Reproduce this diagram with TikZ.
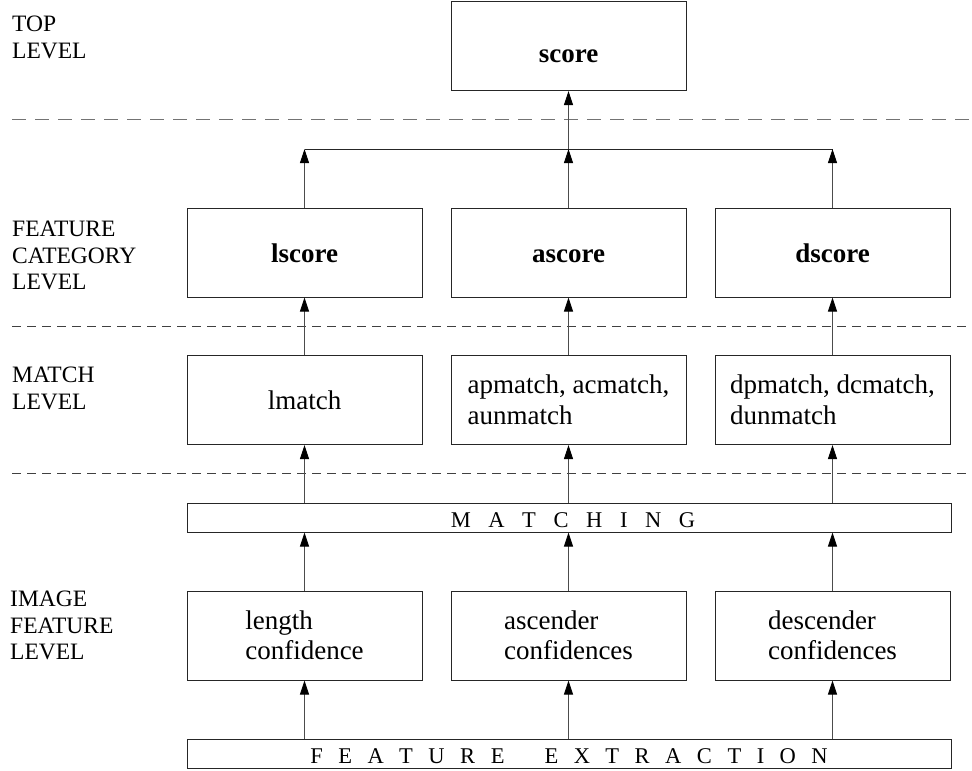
\documentclass[tikz,border=0pt]{standalone}
\usepackage{fontspec}
\setmainfont{Liberation Serif}
\usetikzlibrary{arrows.meta}
\newcommand\lblfont{\fontsize{23.5}{26.5}\selectfont}
\newcommand\boxfont{\fontsize{27}{30.5}\selectfont}
\newcommand\boldfont{\fontsize{27}{30}\selectfont\bfseries}
\newcommand\barfont{\fontsize{22.5}{25}\selectfont}
\newcommand\gm{\hspace{17.6pt}}
\newcommand\gf{\hspace{15.5pt}}
\begin{document}
\begin{tikzpicture}[x=1pt,y=-1pt,
  box/.style={draw=black!85, line width=1pt, minimum width=235pt, minimum height=89pt, inner sep=0pt, align=left, font=\boxfont},
  bbox/.style={box, font=\boldfont, text height=19pt, text depth=0pt},
  bar/.style={draw=black!85, line width=1pt, minimum width=764pt, minimum height=29pt, inner sep=0pt, font=\barfont, text height=20pt, text depth=0pt},
  lbl/.style={anchor=north west, inner sep=0pt, align=left, font=\lblfont},
  arr/.style={draw=black!70, line width=0.9pt, -{Triangle[length=14pt,width=9pt,color=black]}},
  conn/.style={draw=black!85, line width=1pt},
  sepa/.style={draw=black!55, line width=1pt, dash pattern=on 14pt off 9pt},
  sepb/.style={draw=black!75, line width=0.9pt, dash pattern=on 9pt off 6pt}]
\useasboundingbox (0,0) rectangle (972,771);

% level labels
\node[lbl] (ltop) at (12,16) {TOP\\LEVEL};
\node[lbl] (lcat) at (12,221) {FEATURE\\CATEGORY\\LEVEL};
\node[lbl] (lmat) at (12,367) {MATCH\\LEVEL};
\node[lbl] (limg) at (10,591) {IMAGE\\FEATURE\\LEVEL};

% separators
\draw[sepa] (12,119) -- (972,119);
\draw[sepb] (12,326) -- (972,326);
\draw[sepb] (12,473) -- (972,473);

% boxes
\node[bbox, text height=32pt] (score) at (568.5,46) {score};
\node[bbox] (lscore) at (304.5,252.5) {lscore};
\node[bbox] (ascore) at (568.5,252.5) {ascore};
\node[bbox] (dscore) at (832.5,252.5) {dscore};

\node[box] (lmatch) at (304.5,400) {lmatch};
\node[box] (amatch) at (568.5,400) {apmatch, acmatch,\\aunmatch};
\node[box] (dmatch) at (832.5,400) {dpmatch, dcmatch,\\dunmatch};

\node[bar] (matching) at (569,517.5) {\hspace{8pt}M\gm A\gm T\gm C\gm H\gm I\gm N\gm G};

\node[box] (lconf) at (304.5,635.5) {length\\confidence};
\node[box] (aconf) at (568.5,635.5) {ascender\\confidences};
\node[box] (dconf) at (832.5,635.5) {descender\\confidences};

\node[bar] (fext) at (569,753.5) {F\gf E\gf A\gf T\gf U\gf R\gf E\hspace{40pt}E\gf X\gf T\gf R\gf A\gf C\gf T\gf I\gf O\gf N};

% branch to top
\coordinate (bl) at (304.5,149);
\coordinate (bm) at (568.5,149);
\coordinate (br) at (832.5,149);
\draw[conn] (bl) -- (br);
\draw[arr] (lscore.north) -- (bl);
\draw[arr] (ascore.north) -- (bm);
\draw[arr] (dscore.north) -- (br);
\draw[arr] (bm) -- (score.south);

% match -> category
\draw[arr] (lmatch.north) -- (lscore.south);
\draw[arr] (amatch.north) -- (ascore.south);
\draw[arr] (dmatch.north) -- (dscore.south);

% matching -> match
\draw[arr] (lmatch.south |- matching.north) -- (lmatch.south);
\draw[arr] (amatch.south |- matching.north) -- (amatch.south);
\draw[arr] (dmatch.south |- matching.north) -- (dmatch.south);

% image features -> matching
\draw[arr] (lconf.north) -- (lconf.north |- matching.south);
\draw[arr] (aconf.north) -- (aconf.north |- matching.south);
\draw[arr] (dconf.north) -- (dconf.north |- matching.south);

% feature extraction -> image features
\draw[arr] (lconf.south |- fext.north) -- (lconf.south);
\draw[arr] (aconf.south |- fext.north) -- (aconf.south);
\draw[arr] (dconf.south |- fext.north) -- (dconf.south);
\end{tikzpicture}
\end{document}
